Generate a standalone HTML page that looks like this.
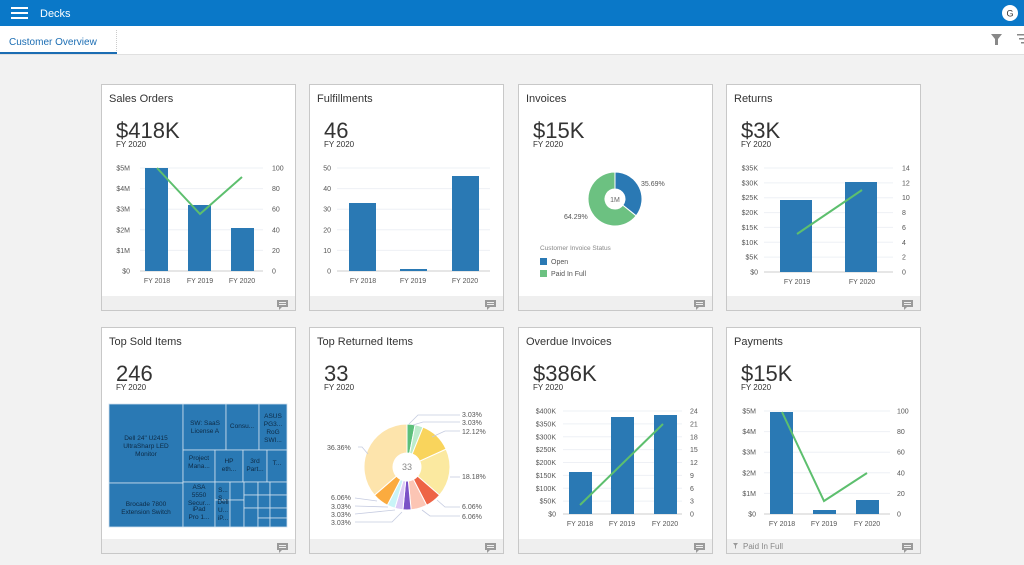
<!DOCTYPE html>
<html><head><meta charset="utf-8">
<style>
html,body{margin:0;padding:0;width:1024px;height:565px;overflow:hidden;background:#f2f2f2;font-family:"Liberation Sans",sans-serif;}
svg{display:block}
text{font-family:"Liberation Sans",sans-serif;}
</style></head>
<body>
<svg id="s" width="1024" height="565" viewBox="0 0 1024 565" xmlns="http://www.w3.org/2000/svg">
<rect x="0" y="0" width="1024" height="565" fill="#f2f2f2"/>
<rect x="0" y="0" width="1024" height="26" fill="#0a78c8"/>
<rect x="11" y="7" width="17" height="2" fill="#fff"/><rect x="11" y="12" width="17" height="2" fill="#fff"/><rect x="11" y="17" width="17" height="2" fill="#fff"/>
<text x="40" y="17" font-size="11" fill="#fff">Decks</text>
<circle cx="1010" cy="13" r="8" fill="#fff"/><text x="1010" y="16.5" font-size="9" text-anchor="middle" fill="#333">G</text>
<rect x="0" y="26" width="1024" height="29" fill="#fff"/>
<line x1="0" y1="54.5" x2="1024" y2="54.5" stroke="#e0e0e0"/>
<text x="9" y="45" font-size="10" fill="#1b6db3">Customer Overview</text>
<rect x="0" y="52" width="117" height="2" fill="#1b6db3"/>
<line x1="116.5" y1="30" x2="116.5" y2="52" stroke="#ccc" stroke-dasharray="1,1"/>
<path d="M991 34 h11 l-4 5 v6 h-3 v-6 z" fill="#888"/>
<rect x="1017" y="34" width="7" height="1.5" fill="#888"/><rect x="1019" y="38" width="5" height="1.5" fill="#888"/><rect x="1021" y="42" width="3" height="1.5" fill="#888"/>
<g id="g"></g>
</svg>
<script>
var g=document.getElementById('g'),h='';
function T(x,y,t,o){o=o||{};h+='<text x="'+x+'" y="'+y+'" font-size="'+(o.s||7)+'" fill="'+(o.c||'#555')+'" text-anchor="'+(o.a||'start')+'">'+t+'</text>';}
function R(x,y,w,hh,c,extra){h+='<rect x="'+x+'" y="'+y+'" width="'+w+'" height="'+hh+'" fill="'+c+'" '+(extra||'')+'/>';}
function L(pts,c,w){h+='<polyline points="'+pts+'" fill="none" stroke="'+c+'" stroke-width="'+(w||2)+'"/>';}
var cx=[101,309,518,726],cy=[84,327];
var titles=[["Sales Orders","Fulfillments","Invoices","Returns"],["Top Sold Items","Top Returned Items","Overdue Invoices","Payments"]];
var vals=[["$418K","46","$15K","$3K"],["246","33","$386K","$15K"]];
for(var r=0;r<2;r++)for(var c=0;c<4;c++){
 var x=cx[c],y=cy[r];
 R(x+.5,y+.5,194,226,'#fff','stroke="#c8c8c8"');
 R(x+1,y+212,193,14,'#efefef');
 R(x+176,y+216,11,7,'#9a9a9a');h+='<path d="M'+(x+178)+' '+(y+223)+' l0 3 l3 -3z" fill="#9a9a9a"/>';
 R(x+178,y+218,7,1,'#efefef');R(x+178,y+220,7,1,'#efefef');
 T(x+8,y+18,titles[r][c],{s:11,c:'#333'});
 T(x+15,y+54,vals[r][c],{s:22,c:'#333'});
 T(x+15,y+63,'FY 2020',{s:8,c:'#333'});
}
function grid(x1,x2,y0,y1,n,left,lx,right,rx){
 for(var i=0;i<=n;i++){var yy=y0-(y0-y1)*i/n;
  h+='<line x1="'+x1+'" y1="'+yy+'" x2="'+x2+'" y2="'+yy+'" stroke="'+(i==0?'#ccc':'#eef0f5')+'" stroke-width="1"/>';
  if(left)T(lx,yy+2.5,left[i],{a:'end'});
  if(right)T(rx,yy+2.5,right[i]);}
}
var B='#2a79b4',G='#5dbf6e';
grid(140,263,271,168,5,['$0','$1M','$2M','$3M','$4M','$5M'],130,['0','20','40','60','80','100'],272);
R(145,168,23,103,B);R(188,205,23,66,B);R(231,228,23,43,B);
L('157,168 200,214 242,177',G);
[[157,'FY 2018'],[200,'FY 2019'],[242,'FY 2020']].forEach(function(a){T(a[0],283,a[1],{a:'middle'})});
grid(337,490,271,168,5,['0','10','20','30','40','50'],331);
R(349,203,27,68,B);R(400,269,27,2,B);R(452,176,27,95,B);
[[363,'FY 2018'],[413,'FY 2019'],[465,'FY 2020']].forEach(function(a){T(a[0],283,a[1],{a:'middle'})});
function arc(cx,cy,ro,ri,a0,a1,col){
 var f=function(r,a){return (cx+r*Math.sin(a)).toFixed(2)+' '+(cy-r*Math.cos(a)).toFixed(2)};
 var lg=(a1-a0)>Math.PI?1:0;
 h+='<path d="M'+f(ro,a0)+' A'+ro+' '+ro+' 0 '+lg+' 1 '+f(ro,a1)+' L'+f(ri,a1)+' A'+ri+' '+ri+' 0 '+lg+' 0 '+f(ri,a0)+' Z" fill="'+col+'" stroke="#fff" stroke-width="1"/>';
}
var TP=Math.PI*2;
arc(615,199,27,10,0,TP*.3569,B);arc(615,199,27,10,TP*.3569,TP*.9999,'#6cc181');
T(615,202,'1M',{a:'middle',s:7,c:'#666'});
T(641,186,'35.69%');T(564,219,'64.29%');
T(540,250,'Customer Invoice Status',{s:6.5,c:'#888'});
R(540,258,7,7,B);T(551,264,'Open',{s:7});R(540,270,7,7,'#6cc181');T(551,276,'Paid In Full',{s:7});
grid(764,893,272,168,7,['$0','$5K','$10K','$15K','$20K','$25K','$30K','$35K'],758,['0','2','4','6','8','10','12','14'],902);
R(780,200,32,72,B);R(845,182,32,90,B);
L('797,234 862,190',G);
T(797,284,'FY 2019',{a:'middle'});T(862,284,'FY 2020',{a:'middle'});
R(109,404,178,123,'#2a79b4');
var tm=[[109,404,74,79],[109,483,74,44],[183,404,43,46],[226,404,33,46],[259,404,28,46],[183,450,32,32],[215,450,28,32],[243,450,24,32],[267,450,20,32],
[183,482,32,45],[215,482,15,18],[230,482,14,18],[244,482,14,13],[258,482,12,13],[270,482,17,13],[215,500,15,27],[230,500,14,27],[244,495,14,13],[258,495,12,13],[270,495,17,13],[244,508,14,19],[258,508,12,10],[270,508,17,10],[258,518,12,9],[270,518,17,9]];
tm.forEach(function(t){h+='<rect x="'+t[0]+'" y="'+t[1]+'" width="'+t[2]+'" height="'+t[3]+'" fill="#2a79b4" stroke="#cfe0ee" stroke-width="0.8"/>';});
function tt(x,y,lines){lines.forEach(function(l,i){T(x,y+i*8,l,{s:6.5,c:'#0d2a45',a:'middle'})});}
tt(146,440,['Dell 24" U2415','UltraSharp LED','Monitor']);tt(146,506,['Brocade 7800','Extension Switch']);
tt(205,425,['SW: SaaS','License A']);tt(242,428,['Consu...']);tt(273,418,['ASUS','PG3...','RoG','SWI...']);
tt(199,460,['Project','Mana...']);tt(229,463,['HP','eth...']);tt(255,463,['3rd','Part...']);tt(277,465,['T...']);
tt(199,489,['ASA','5550','Secur...']);tt(199,511,['iPad','Pro 1...']);tt(223,492,['S...','S...']);tt(223,504,['Dell','U...']);tt(223,520,['iP...']);
var seg=[[3.03,'#5bbf7a'],[3.03,'#bdeccb'],[12.12,'#f9d45c'],[18.18,'#fbe9a0'],[6.06,'#ee6446'],[6.06,'#fcc5b4'],[3.03,'#7b52c7'],[3.03,'#dccaf6'],[3.03,'#c9f4f7'],[6.06,'#fbab3f'],[36.36,'#fde4ac']];
var a=0;seg.forEach(function(s){var b=a+s[0]/100*TP;arc(407,467,43,14,a,b,s[1]);a=b;});
T(407,470,'33',{a:'middle',s:9,c:'#888'});
var lc='#c5cbe0';
L('409,424 418,415 460,415',lc,0.8);L('413,425 423,422 460,422',lc,0.8);L('432,437 445,431 460,431',lc,0.8);L('450,477 460,477',lc,0.8);
L('437,500 445,507 460,507',lc,0.8);L('422,510 430,516 460,516',lc,0.8);
L('368,454 362,447 358,447',lc,0.8);L('377,501 355,498',lc,0.8);L('388,507 355,506',lc,0.8);L('395,510 355,514',lc,0.8);L('402,512 392,522 355,522',lc,0.8);
T(462,417,'3.03%');T(462,425,'3.03%');T(462,434,'12.12%');T(462,479,'18.18%');T(462,509,'6.06%');T(462,519,'6.06%');
T(327,450,'36.36%');T(331,500,'6.06%');T(331,509,'3.03%');T(331,517,'3.03%');T(331,525,'3.03%');
grid(563,682,514,411,8,['$0','$50K','$100K','$150K','$200K','$250K','$300K','$350K','$400K'],556,['0','3','6','9','12','15','18','21','24'],690);
R(569,472,23,42,B);R(611,417,23,97,B);R(654,415,23,99,B);
L('580,505 663,424',G);
[[580,'FY 2018'],[622,'FY 2019'],[665,'FY 2020']].forEach(function(a){T(a[0],526,a[1],{a:'middle'})});
grid(764,890,514,411,5,['$0','$1M','$2M','$3M','$4M','$5M'],756,['0','20','40','60','80','100'],897);
R(770,412,23,102,B);R(813,510,23,4,B);R(856,500,23,14,B);
L('782,412 824,501 867,473',G);
[[782,'FY 2018'],[824,'FY 2019'],[867,'FY 2020']].forEach(function(a){T(a[0],526,a[1],{a:'middle'})});
h+='<path d="M733 543 h5 l-2 2.5 v3 h-1 v-3 z" fill="#999"/>';
T(743,549,'Paid In Full',{s:8,c:'#888'});
g.innerHTML=h;
</script>
</body></html>
